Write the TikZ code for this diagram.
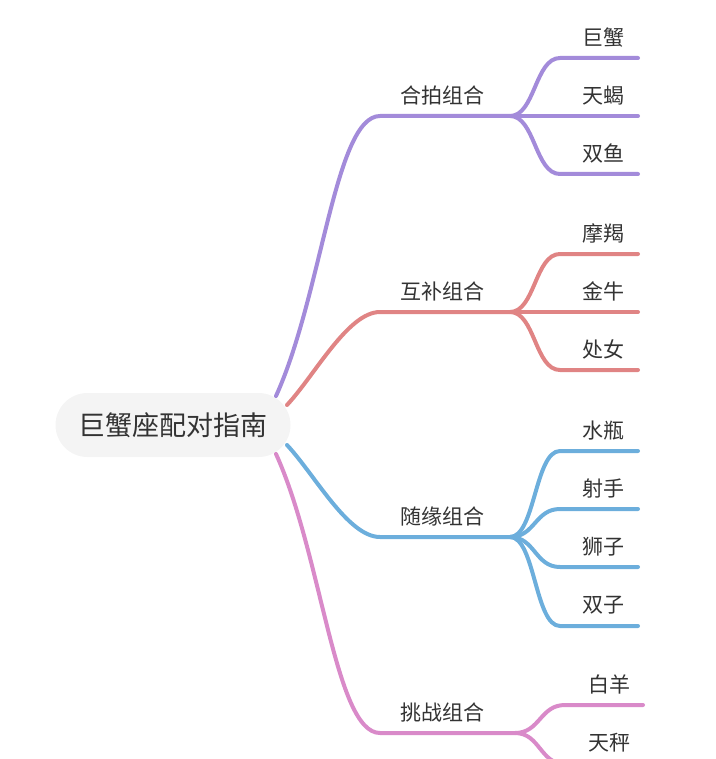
\documentclass[tikz,border=0pt]{standalone}
\usepackage{fontspec}
\newfontfamily\cjk{Noto Sans CJK SC}
\usetikzlibrary{positioning, calc}
\definecolor{ink}{HTML}{333333}
\definecolor{pillgray}{HTML}{F4F4F4}
\definecolor{mmpurple}{HTML}{A38BDA}
\definecolor{mmred}{HTML}{E08484}
\definecolor{mmblue}{HTML}{6CAEDC}
\definecolor{mmpink}{HTML}{D98AC9}
\tikzset{
  branch/.style={line width=4pt, line cap=round},
  txt/.style={font=\cjk\fontsize{21}{21}\selectfont, text=ink, inner sep=0pt},
  rootbox/.style={font=\cjk\fontsize{27}{27}\selectfont, text=ink, fill=pillgray,
    minimum width=235pt, minimum height=64pt, rounded corners=32pt, inner sep=0pt}
}

\begin{document}
\begin{tikzpicture}[x=1pt, y=-1pt]
  \useasboundingbox (0,0) rectangle (715,759);
  \clip (0,0) rectangle (715,759);

  % root
  \node[rootbox] (root) at (173,425) {巨蟹座配对指南};
  \coordinate (r-he) at ($(root.center)+(103,-29)$);
  \coordinate (r-hu) at ($(root.center)+(114,-20)$);
  \coordinate (r-sui) at ($(root.center)+(114,20)$);
  \coordinate (r-tiao) at ($(root.center)+(103,29)$);

  % first level
  \node[txt] (he) at (442,95.5) {合拍组合};
  \coordinate (he-a) at (380,116);
  \coordinate (he-b) at (510,116);
  \node[txt] (hu) at (442,291.5) {互补组合};
  \coordinate (hu-a) at (380,312);
  \coordinate (hu-b) at (510,312);
  \node[txt] (sui) at (442,516.5) {随缘组合};
  \coordinate (sui-a) at (380,537);
  \coordinate (sui-b) at (510,537);
  \node[txt] (tiao) at (442,712.5) {挑战组合};
  \coordinate (tiao-a) at (380,733);
  \coordinate (tiao-b) at (515,733);

  \draw[branch, mmpurple] (r-he) .. controls +(46,-101) and +(-45,0) .. (he-a) -- (he-b);
  \draw[branch, mmred] (r-hu) .. controls +(28,-30) and +(-32,0) .. (hu-a) -- (hu-b);
  \draw[branch, mmblue] (r-sui) .. controls +(28,30) and +(-32,0) .. (sui-a) -- (sui-b);
  \draw[branch, mmpink] (r-tiao) .. controls +(46,101) and +(-45,0) .. (tiao-a) -- (tiao-b);

  % leaves
  \foreach \name/\yy [count=\i] in {巨蟹/58, 天蝎/116, 双鱼/174} {
    \node[txt] (he\i) at (603,\yy-20.5) {\name};
    \coordinate (he\i-s) at (560,\yy);
    \coordinate (he\i-e) at (638,\yy);
    \draw[branch, mmpurple] (he-b) .. controls +(25,0) and +(-25,0) .. (he\i-s) -- (he\i-e);
  }
  \foreach \name/\yy [count=\i] in {摩羯/254, 金牛/312, 处女/370} {
    \node[txt] (hu\i) at (603,\yy-20.5) {\name};
    \coordinate (hu\i-s) at (560,\yy);
    \coordinate (hu\i-e) at (638,\yy);
    \draw[branch, mmred] (hu-b) .. controls +(25,0) and +(-25,0) .. (hu\i-s) -- (hu\i-e);
  }
  \foreach \name/\yy [count=\i] in {水瓶/451, 射手/509, 狮子/567, 双子/626} {
    \node[txt] (sui\i) at (603,\yy-20.5) {\name};
    \coordinate (sui\i-s) at (560,\yy);
    \coordinate (sui\i-e) at (638,\yy);
    \draw[branch, mmblue] (sui-b) .. controls +(25,0) and +(-25,0) .. (sui\i-s) -- (sui\i-e);
  }
  \foreach \name/\yy [count=\i] in {白羊/705, 天秤/764} {
    \node[txt] (tiao\i) at (609,\yy-21) {\name};
    \coordinate (tiao\i-s) at (565,\yy);
    \coordinate (tiao\i-e) at (643,\yy);
    \draw[branch, mmpink] (tiao-b) .. controls +(25,0) and +(-25,0) .. (tiao\i-s) -- (tiao\i-e);
  }
\end{tikzpicture}
\end{document}
